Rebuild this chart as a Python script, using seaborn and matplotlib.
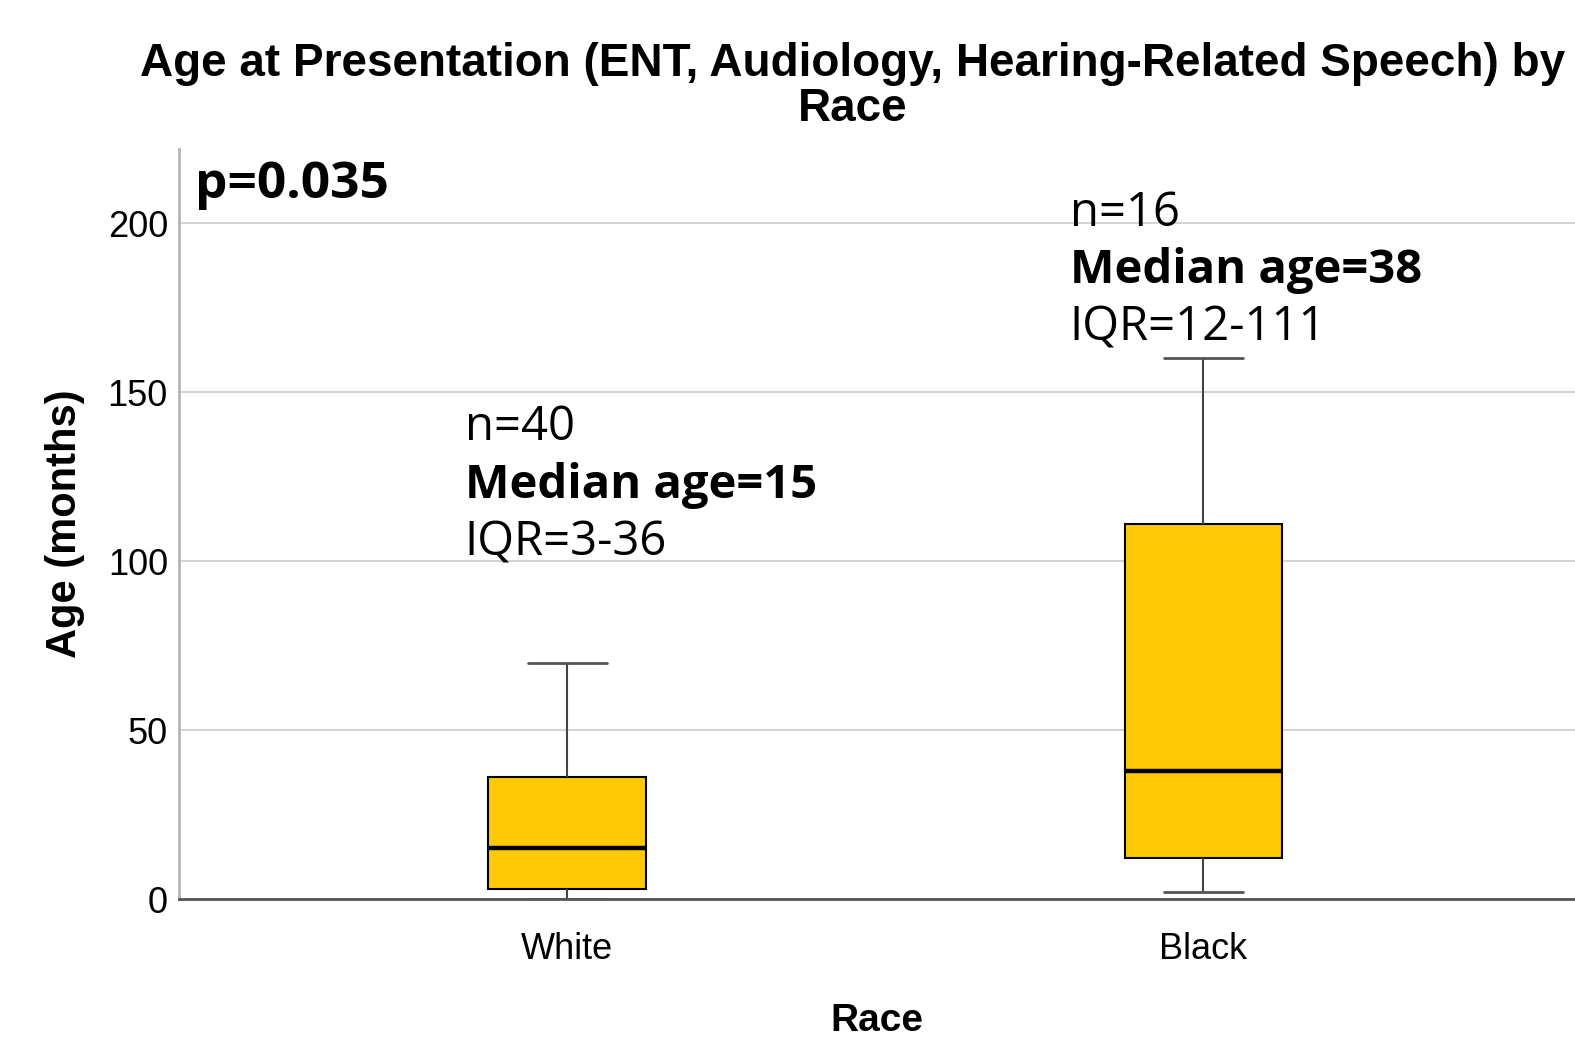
import numpy as np
import pandas as pd
import matplotlib
matplotlib.use("Agg")
import matplotlib.pyplot as plt
import seaborn as sns

# five-number summaries (min, Q1, median, Q3, max)
races = ["White", "Black"]
white_ages = [0, 3, 15, 36, 70]
black_ages = [2, 12, 38, 111, 160]
n_counts = [40, 16]
medians = [15, 38]
iqr_labels = ["3-36", "12-111"]
p_value = "0.035"

df = pd.DataFrame({
    "Race": ["White"] * len(white_ages) + ["Black"] * len(black_ages),
    "Age": white_ages + black_ages,
})

sns.set_style("white")
plt.rcParams["font.family"] = ["Liberation Sans", "DejaVu Sans"]
plt.rcParams["text.color"] = "black"
plt.rcParams["axes.labelcolor"] = "black"
plt.rcParams["xtick.color"] = "black"
plt.rcParams["ytick.color"] = "black"

fig = plt.figure(figsize=(15.75, 10.41), dpi=100)
ax = fig.add_axes([0.1137, 0.1364, 1 - 0.1137, 0.7205])

sns.boxplot(data=df, x="Race", y="Age", order=races, color="#FFC906",
            width=0.248, whis=(0, 100), linecolor="black", linewidth=1.5,
            showfliers=False, saturation=1, ax=ax,
            medianprops={"linewidth": 3.2, "color": "black"},
            whiskerprops={"color": "#444444"},
            capprops={"color": "#555555", "linewidth": 2})

ax.set_xlim(-0.61, 1.584)
ax.set_ylim(0, 222)
ax.set_yticks([0, 50, 100, 150, 200])
ax.yaxis.grid(True, color="#d4d4d4", linewidth=1.5)
ax.set_axisbelow(True)
ax.tick_params(axis="both", length=0, labelsize=26, pad=8)
ax.tick_params(axis="x", pad=24)
for s in ["top", "right"]:
    ax.spines[s].set_visible(False)
ax.spines["left"].set_color("#b5b5b5")
ax.spines["left"].set_linewidth(2)
ax.spines["bottom"].set_color("#555555")
ax.spines["bottom"].set_linewidth(2)

ax.set_xlabel("Race", fontsize=28, fontweight="bold", labelpad=26)
ax.set_ylabel("Age (months)", fontsize=30, fontweight="bold", labelpad=16)

fig.text(0.5416, 0.917, "Age at Presentation (ENT, Audiology, Hearing-Related Speech) by\nRace",
         ha="center", va="center", fontsize=33, fontweight="bold", linespacing=1.05)

# annotations
ann = dict(family=["Open Sans", "DejaVu Sans"], fontsize=34, va="baseline")
x_offsets = [-0.161, -0.21]
base_y = [135.8, 199.3]
for i, r in enumerate(races):
    x = i + x_offsets[i]
    y0 = base_y[i]
    ax.text(x, y0, f"n={n_counts[i]}", **ann)
    ax.text(x, y0 - 17, f"Median age={medians[i]}", fontweight="bold", **ann)
    ax.text(x, y0 - 34, f"IQR={iqr_labels[i]}", **ann)

ax.text(-0.585, 207.4, f"p={p_value}", fontweight="bold",
        family=["Open Sans", "DejaVu Sans"], fontsize=37, va="baseline")

fig.savefig("out.png", dpi=100)
